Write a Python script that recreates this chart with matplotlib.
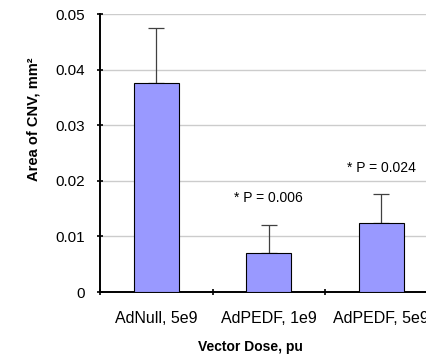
import matplotlib
matplotlib.use("Agg")
import matplotlib.pyplot as plt

plt.rcParams["font.family"] = ["Liberation Sans", "DejaVu Sans"]

categories = ["AdNull, 5e9", "AdPEDF, 1e9", "AdPEDF, 5e9"]
cnv_area = [0.0376, 0.0071, 0.0124]
cnv_error = [0.0099, 0.0050, 0.0052]
p_labels = ["", "* P = 0.006", "* P = 0.024"]
y_ticks = [0, 0.01, 0.02, 0.03, 0.04, 0.05]
y_tick_labels = ["0", "0.01", "0.02", "0.03", "0.04", "0.05"]

fig = plt.figure(figsize=(4.26, 3.56), dpi=100)
# axes run past the right edge, like the cropped original
ax = fig.add_axes([100 / 426, 64 / 356, 337.5 / 426, 278 / 356])

x = range(len(categories))
ax.bar(
    x,
    cnv_area,
    width=0.4,
    color="#9999ff",
    edgecolor="black",
    linewidth=0.8,
    zorder=3,
)
ax.errorbar(
    x,
    cnv_area,
    yerr=[[0] * len(cnv_error), cnv_error],
    fmt="none",
    ecolor="#404040",
    elinewidth=0.9,
    capsize=5.5,
    capthick=0.9,
    zorder=2,
)

for i, label in enumerate(p_labels):
    if label:
        ax.annotate(
            label,
            xy=(i, cnv_area[i] + cnv_error[i]),
            xytext=(0, 19),
            textcoords="offset points",
            ha="center",
            va="center",
            fontsize=10,
        )

ax.set_xlim(-0.5, len(categories) - 0.5)
ax.set_ylim(0, 0.05)
ax.set_yticks(y_ticks)
ax.set_yticklabels(y_tick_labels, fontsize=11)
ax.set_xticks(list(x))
ax.set_xticklabels(categories, fontsize=11.5)
ax.set_xticks([i - 0.5 for i in range(len(categories) + 1)], minor=True)
ax.tick_params(axis="x", which="major", length=0, pad=14)
ax.tick_params(axis="x", which="minor", length=4, width=1.2, direction="inout")
ax.tick_params(axis="y", length=4, width=1.2, pad=9, direction="inout")

ax.yaxis.grid(True, color="#cccccc", linewidth=1)
ax.set_axisbelow(True)
for side in ["top", "right"]:
    ax.spines[side].set_visible(False)
ax.spines["left"].set_linewidth(1.4)
ax.spines["bottom"].set_linewidth(1.4)

fig.text(33 / 426, 1 - 119 / 356, "Area of CNV, mm²", rotation=90,
         ha="center", va="center", fontsize=10.5, fontweight="bold")
fig.text(250 / 426, 1 - 347 / 356, "Vector Dose, pu", ha="center", va="center",
         fontsize=10, fontweight="bold")

fig.savefig("out.png", dpi=100)
